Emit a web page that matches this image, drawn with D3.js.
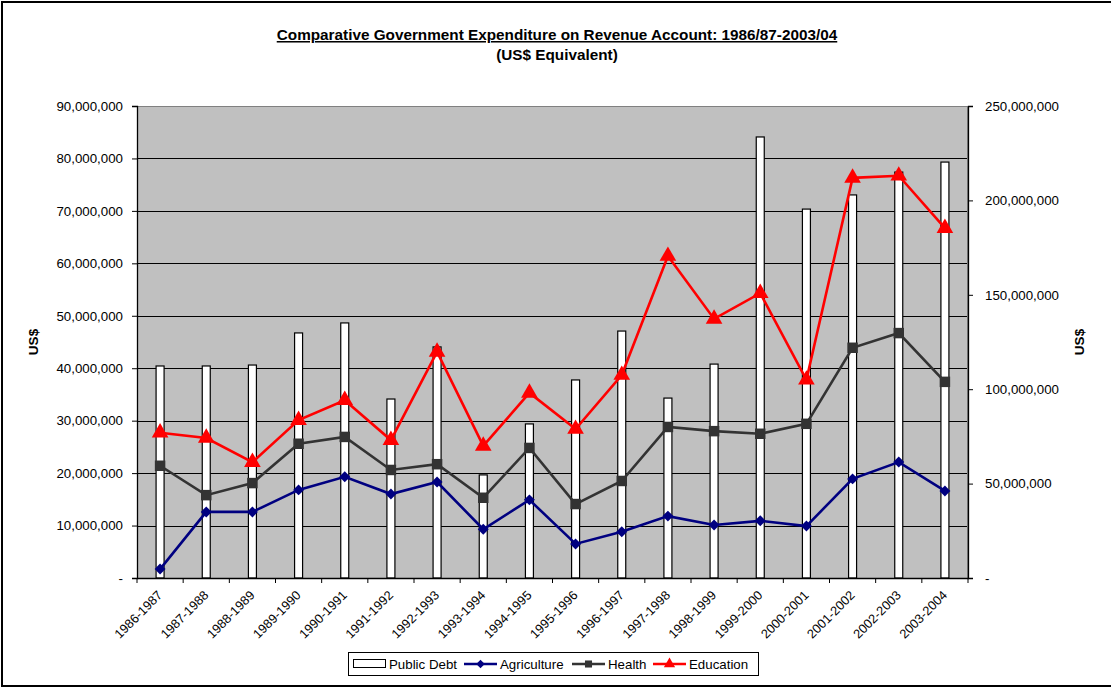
<!DOCTYPE html>
<html><head><meta charset="utf-8">
<script src="https://cdn.jsdelivr.net/npm/d3@7"></script>
<style>body{margin:0;background:#fff;}text{font-family:"Liberation Sans",Arial,sans-serif;}</style>
</head><body><svg id="c" width="1111" height="688"></svg>
<script>
const categories = ["1986-1987","1987-1988","1988-1989","1989-1990","1990-1991","1991-1992","1992-1993","1993-1994","1994-1995","1995-1996","1996-1997","1997-1998","1998-1999","1999-2000","2000-2001","2001-2002","2002-2003","2003-2004"];
const publicDebt = [112300000,112300000,112800000,129800000,135100000,94800000,122400000,54600000,81600000,104900000,130800000,95300000,113300000,233600000,195400000,202900000,215000000,220300000];
const agriculture = [1700000,12600000,12600000,16800000,19300000,16000000,18300000,9300000,14900000,6500000,8800000,11800000,10100000,10900000,9900000,18900000,22100000,16600000];
const health = [21400000,15800000,18100000,25600000,26900000,20600000,21700000,15300000,24800000,14100000,18500000,28800000,28000000,27500000,29400000,43900000,46700000,37400000];
const education = [27700000,26700000,22100000,30100000,33900000,26300000,43100000,25200000,35300000,28400000,38700000,61400000,49400000,54300000,37800000,76300000,76700000,66700000];
const leftTicks = [0,10000000,20000000,30000000,40000000,50000000,60000000,70000000,80000000,90000000];
const rightTicks = [0,50000000,100000000,150000000,200000000,250000000];

const svg = d3.select("#c");
const L = 137, R = 968, T = 106, B = 578;
const x = d3.scaleBand().domain(categories).range([L, R]);
const yL = d3.scaleLinear().domain([0, 90000000]).range([B, T]);
const yR = d3.scaleLinear().domain([0, 250000000]).range([B, T]);
const fmt = v => v === 0 ? "-" : d3.format(",")(v);
const FF = "'Liberation Sans',Arial,sans-serif";

// outer frame
svg.append("path").attr("d", "M1113,2 H2 V686 H1113").attr("fill","none").attr("stroke","#000").attr("stroke-width",2);

// plot area
svg.append("rect").attr("x", L).attr("y", T).attr("width", R-L).attr("height", B-T).attr("fill", "#c0c0c0");
// gridlines
svg.append("g").selectAll("line").data(leftTicks.filter(d=>d>0 && d<90000000)).join("line")
  .attr("x1", L).attr("x2", R).attr("y1", d=>Math.round(yL(d))+0.5).attr("y2", d=>Math.round(yL(d))+0.5)
  .attr("stroke", "#000").attr("stroke-width", 1);
svg.append("rect").attr("x", L+0.5).attr("y", T+0.5).attr("width", R-L-1).attr("height", B-T).attr("fill","none").attr("stroke","#808080").attr("stroke-width",1);

// bars
const bw = 8;
svg.append("g").selectAll("rect").data(publicDebt).join("rect")
  .attr("x", (d,i)=>x(categories[i]) + x.bandwidth()/2 - bw/2)
  .attr("y", d=>yR(d)).attr("width", bw).attr("height", d=>B - yR(d))
  .attr("fill", "#fff").attr("stroke", "#000").attr("stroke-width", 1.2);

// axes
const gL = svg.append("g").attr("transform", `translate(${L},0)`)
  .call(d3.axisLeft(yL).tickValues(leftTicks).tickFormat(fmt).tickSize(5).tickPadding(9));
const gR = svg.append("g").attr("transform", `translate(${R},0)`)
  .call(d3.axisRight(yR).tickValues(rightTicks).tickFormat(fmt).tickSize(5).tickPadding(12));
const gX = svg.append("g").attr("transform", `translate(0,${B})`)
  .call(d3.axisBottom(x).tickSize(0).tickFormat(""));
[gL,gR,gX].forEach(g=>{ g.select(".domain").attr("stroke","#000").attr("stroke-width",1.3); g.selectAll(".tick line").attr("stroke","#000"); g.selectAll("text").attr("font-size",13.3).attr("fill","#000").attr("font-family",FF);});
// x ticks at band boundaries
const bounds = categories.map(c=>x(c)).concat([R]);
svg.append("g").selectAll("line").data(bounds).join("line")
  .attr("x1", d=>d).attr("x2", d=>d).attr("y1", B).attr("y2", B+5).attr("stroke","#000");
// x labels
svg.append("g").selectAll("text").data(categories).join("text")
  .attr("transform", d=>`translate(${x(d)+x.bandwidth()/2+3},${B+18}) rotate(-45)`)
  .attr("text-anchor","end").attr("font-size",12.8).text(d=>d);

// lines
function series(data, color, marker, size, rot) {
  const line = d3.line().x((d,i)=>x(categories[i])+x.bandwidth()/2).y(d=>yL(d));
  svg.append("path").datum(data).attr("d", line).attr("fill","none").attr("stroke", color).attr("stroke-width", 2.6);
  svg.append("g").selectAll("path").data(data).join("path")
    .attr("transform", (d,i)=>`translate(${x(categories[i])+x.bandwidth()/2},${yL(d)}) rotate(${rot})`)
    .attr("d", d3.symbol().type(marker).size(size)).attr("fill", color);
}
series(agriculture, "#000080", d3.symbolSquare, 60, 45);
series(health, "#333333", d3.symbolSquare, 110, 0);
series(education, "#ff0000", d3.symbolTriangle, 120, 0);

// titles
svg.append("text").attr("x", 557).attr("y", 40).attr("text-anchor","middle").attr("font-size",15.3).attr("font-weight","bold").attr("text-decoration","underline")
  .text("Comparative Government Expenditure on Revenue Account: 1986/87-2003/04");
svg.append("text").attr("x", 557).attr("y", 60).attr("text-anchor","middle").attr("font-size",15.3).attr("font-weight","bold").text("(US$ Equivalent)");
svg.append("text").attr("transform","translate(38,342) rotate(-90)").attr("text-anchor","middle").attr("font-size",13.5).attr("font-weight","bold").text("US$");
svg.append("text").attr("transform","translate(1084,342) rotate(-90)").attr("text-anchor","middle").attr("font-size",13.5).attr("font-weight","bold").text("US$");

// legend
const lg = svg.append("g");
lg.append("rect").attr("x",348.5).attr("y",652.5).attr("width",410).attr("height",23).attr("fill","#fff").attr("stroke","#000");
const items = [
  {name:"Public Debt", x:353, type:"bar"},
  {name:"Agriculture", x:464, type:"line", color:"#000080", marker:d3.symbolSquare, size:36, rot:45},
  {name:"Health", x:572, type:"line", color:"#333333", marker:d3.symbolSquare, size:50, rot:0},
  {name:"Education", x:653, type:"line", color:"#ff0000", marker:d3.symbolTriangle, size:55, rot:0}
];
items.forEach(it=>{
  if (it.type==="bar") {
    lg.append("rect").attr("x",it.x+0.5).attr("y",659.5).attr("width",32).attr("height",8).attr("fill","#fff").attr("stroke","#000");
  } else {
    lg.append("line").attr("x1",it.x).attr("x2",it.x+33).attr("y1",664).attr("y2",664).attr("stroke",it.color).attr("stroke-width",2.6);
    lg.append("path").attr("transform",`translate(${it.x+16.5},664) rotate(${it.rot})`).attr("d",d3.symbol().type(it.marker).size(it.size)).attr("fill",it.color);
  }
  lg.append("text").attr("x",it.x+36).attr("y",668.5).attr("font-size",13.3).text(it.name);
});
</script></body></html>
